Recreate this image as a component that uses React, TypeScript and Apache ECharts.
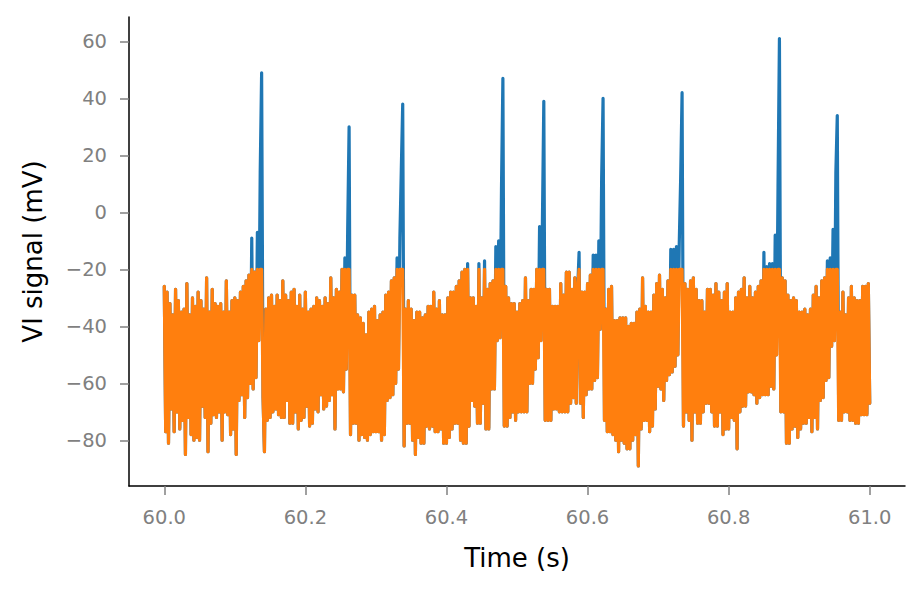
import React, { useEffect, useRef } from "react";
import * as echarts from "echarts";

// Sampling of the recorded trace (one value every 2 ms from t = 60 s to 61 s)
const START_TIME = 60.0;
const SAMPLE_STEP = 0.002;
// The orange trace is the same signal cut off at this level (mV)
const CLIP_LEVEL = -20;

const X_TICKS = [60.0, 60.2, 60.4, 60.6, 60.8, 61.0];
const Y_TICKS = [-80, -60, -40, -20, 0, 20, 40, 60];

// VI signal (mV), 10 samples per row
const viSignal = [
  -26, -77, -28, -81, -32, -69, -36, -77, -27, -70,
  -31, -76, -35, -73, -34, -85, -25, -72, -36, -78,
  -30, -80, -33, -79, -28, -80, -31, -68, -34, -72,
  -23, -84, -35, -74, -27, -71, -32, -72, -33, -70,
  -32, -80, -35, -70, -24, -71, -35, -78, -31, -76,
  -30, -85, -31, -66, -28, -64, -26, -72, -24, -65,
  -22, -60, -9, -62, -21, -58, -7, -45, 14, 49,
  -65, -84, -34, -73, -30, -72, -29, -70, -33, -69,
  -29, -71, -31, -72, -24, -72, -29, -66, -31, -74,
  -28, -74, -27, -70, -33, -76, -29, -73, -34, -72,
  -28, -68, -35, -75, -34, -74, -33, -69, -30, -70,
  -31, -64, -33, -69, -30, -68, -32, -66, -23, -64,
  -30, -76, -27, -62, -28, -62, -20, -63, -16, -55,
  -6, 30, -78, -29, -74, -29, -74, -36, -80, -37,
  -78, -39, -79, -43, -80, -35, -78, -34, -77, -33,
  -77, -38, -77, -36, -80, -35, -78, -29, -66, -28,
  -65, -24, -64, -23, -60, -16, -55, -9, 15, 38,
  -82, -34, -74, -31, -74, -34, -80, -38, -85, -35,
  -79, -35, -81, -37, -81, -36, -75, -33, -76, -33,
  -75, -28, -77, -34, -77, -31, -76, -36, -81, -36,
  -81, -30, -79, -28, -76, -28, -74, -26, -74, -24,
  -80, -21, -81, -20, -81, -18, -75, -30, -66, -30,
  -68, -33, -74, -18, -74, -30, -67, -17, -76, -27,
  -76, -25, -62, -24, -62, -12, -45, -10, -44, 8,
  47, -75, -26, -75, -30, -72, -32, -70, -32, -73,
  -35, -70, -32, -70, -31, -70, -23, -70, -31, -60,
  -27, -60, -27, -55, -20, -51, -5, -45, -4, 39,
  -73, -27, -73, -27, -73, -33, -69, -33, -69, -33,
  -70, -25, -70, -29, -70, -21, -70, -21, -67, -27,
  -65, -23, -67, -27, -14, -67, -28, -72, -28, -64,
  -25, -62, -22, -62, -15, -59, -15, -58, -10, -41,
  12, 40, -73, -34, -77, -27, -77, -26, -78, -38,
  -80, -38, -84, -37, -80, -37, -81, -37, -83, -40,
  -83, -39, -80, -39, -78, -35, -89, -34, -76, -23,
  -73, -33, -73, -35, -77, -35, -75, -29, -69, -25,
  -61, -22, -62, -27, -66, -30, -59, -24, -57, -13,
  -56, -13, -54, -12, -50, -11, 12, 42, -75, -25,
  -70, -27, -73, -24, -80, -23, -70, -27, -74, -31,
  -74, -31, -70, -35, -67, -27, -67, -27, -70, -29,
  -75, -25, -75, -28, -70, -31, -78, -28, -76, -25,
  -76, -35, -72, -35, -73, -30, -83, -28, -70, -27,
  -68, -23, -68, -30, -63, -26, -63, -30, -64, -28,
  -67, -26, -65, -24, -64, -14, -64, -19, -64, -18,
  -61, -18, -62, -8, -50, 9, 61, -70, -23, -70,
  -24, -81, -29, -81, -31, -76, -30, -75, -31, -79,
  -35, -76, -35, -74, -34, -74, -36, -72, -34, -77,
  -29, -72, -26, -76, -30, -66, -24, -65, -23, -59,
  -17, -58, -16, -47, -6, -45, 14, 34, -73, -35,
  -73, -28, -70, -36, -70, -30, -73, -26, -73, -30,
  -74, -31, -74, -31, -71, -26, -71, -26, -71, -25,
  -67,
];

const FONT = "DejaVu Sans";
const GREY = "#808080";

export default function App() {
  const ref = useRef<HTMLDivElement>(null);

  useEffect(() => {
    if (!ref.current) return;
    const chart = echarts.init(ref.current, null, { renderer: "svg" });
    const timeOf = (i: number) => START_TIME + i * SAMPLE_STEP;
    const raw = viSignal.map((v, i) => [timeOf(i), v]);
    const clipped = viSignal.map((v, i) => [timeOf(i), Math.min(v, CLIP_LEVEL)]);
    const minus = (v: number) => (v < 0 ? "\u2212" + Math.abs(v) : String(v));

    chart.setOption({
      animation: false,
      backgroundColor: "#ffffff",
      textStyle: { fontFamily: FONT },
      grid: { left: 129, top: 17, width: 776, height: 469 },
      xAxis: {
        type: "value",
        min: 59.95,
        max: 61.05,
        name: "Time (s)",
        nameLocation: "middle",
        nameGap: 59,
        nameTextStyle: { fontSize: 26, color: "#000", fontFamily: FONT },
        axisLine: { show: true, onZero: false, lineStyle: { color: "#000", width: 1.5 } },
        axisTick: { show: true, customValues: X_TICKS, length: 9, lineStyle: { color: GREY, width: 1.5 } },
        axisLabel: {
          customValues: X_TICKS,
          formatter: (v: number) => v.toFixed(1),
          fontSize: 19.5,
          color: GREY,
          margin: 21,
          fontFamily: FONT,
        },
        splitLine: { show: false },
      },
      yAxis: {
        type: "value",
        min: -96.05,
        max: 68.57,
        name: "VI signal (mV)",
        nameLocation: "middle",
        nameGap: 83,
        nameRotate: 90,
        nameTextStyle: { fontSize: 26, color: "#000", fontFamily: FONT },
        axisLine: { show: true, onZero: false, lineStyle: { color: "#000", width: 1.5 } },
        axisTick: { show: true, customValues: Y_TICKS, length: 9, lineStyle: { color: GREY, width: 1.5 } },
        axisLabel: {
          customValues: Y_TICKS,
          formatter: minus,
          fontSize: 19.5,
          color: GREY,
          margin: 22,
          fontFamily: FONT,
        },
        splitLine: { show: false },
      },
      series: [
        {
          type: "line",
          data: raw,
          showSymbol: false,
          symbol: "none",
          silent: true,
          lineStyle: { color: "#1f77b4", width: 3.2, cap: "round", join: "round" },
          z: 2,
        },
        {
          type: "line",
          data: clipped,
          showSymbol: false,
          symbol: "none",
          silent: true,
          lineStyle: { color: "#ff7f0e", width: 3.2, cap: "round", join: "round" },
          z: 3,
        },
      ],
    });
    return () => chart.dispose();
  }, []);

  return (
    <div
      ref={ref}
      style={{ position: "fixed", left: 0, top: 0, width: 923, height: 590, background: "#fff" }}
    />
  );
}
